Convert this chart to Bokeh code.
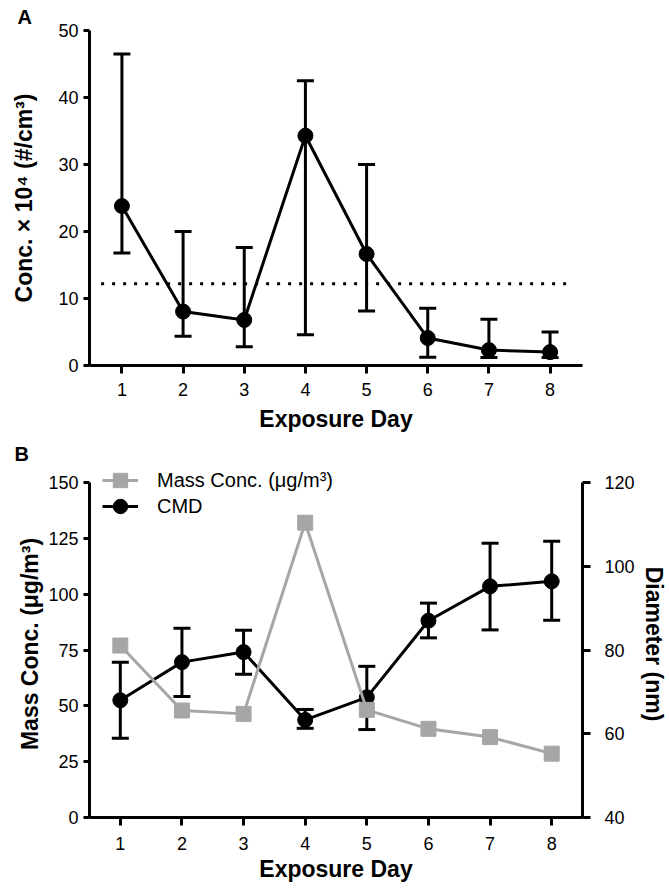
from bokeh.plotting import figure
from bokeh.models import (Range1d, LinearAxis, FixedTicker, Whisker, TeeHead,
                          ColumnDataSource, Legend, LegendItem, Title)
from bokeh.layouts import column
from bokeh.embed import file_html
from bokeh.resources import INLINE

# ---------------- data ----------------
days = [1, 2, 3, 4, 5, 6, 7, 8]
day_ticks = [1, 2, 3, 4, 5, 6, 7, 8]

# Panel A: number concentration x 10^4 (#/cm^3)
conc = [23.8, 8.05, 6.8, 34.3, 16.65, 4.1, 2.3, 2.0]
conc_upper = [46.5, 20.0, 17.6, 42.5, 30.0, 8.55, 6.9, 5.0]
conc_lower = [16.8, 4.35, 2.8, 4.6, 8.15, 1.24, 1.2, 1.2]
threshold = 12.2
threshold_x = [0.66, 8.37]
conc_ticks = [0, 10, 20, 30, 40, 50]

# Panel B
mass = [77.0, 47.9, 46.4, 132.0, 48.2, 39.7, 36.0, 28.6]
cmd = [68.0, 77.1, 79.5, 63.3, 68.7, 87.0, 95.2, 96.4]
cmd_upper = [77.1, 85.2, 84.7, 65.8, 76.1, 91.2, 105.5, 106.0]
cmd_lower = [58.9, 68.9, 74.2, 61.3, 61.0, 82.9, 84.8, 87.1]
mass_ticks = [0, 25, 50, 75, 100, 125, 150]
diam_ticks = [40, 60, 80, 100, 120]

FONT = "Liberation Sans"
GRAY = "#a6a6a6"
W = 669
TICK_PX = "18px"
TITLE_PX = "23px"

# vertical layout (px)
A_H = 470
B_H = 890 - A_H
B_BOTTOM = 73
B_FRAME_H = B_H - B_BOTTOM   # frame of B is a bit taller than the 0..150 axis
B_AXIS_PX = 335              # pixel length of the 0..150 axis


def style_axis(ax):
    ax.axis_line_width = 3
    ax.axis_line_color = "black"
    ax.major_tick_line_width = 3
    ax.major_tick_line_color = "black"
    ax.major_tick_in = 0
    ax.major_tick_out = 8
    ax.minor_tick_line_color = None
    ax.major_label_text_font = FONT
    ax.major_label_text_font_size = TICK_PX
    ax.major_label_text_color = "black"
    ax.axis_label_text_font = FONT
    ax.axis_label_text_font_size = TITLE_PX
    ax.axis_label_text_font_style = "bold"
    ax.axis_label_text_color = "black"


# ---------------- Panel A ----------------
pA = figure(width=W, height=A_H, output_backend="svg", toolbar_location=None,
            x_range=Range1d(0.47, 8.53), y_range=Range1d(0, 50),
            min_border_left=82, min_border_right=86, min_border_top=29,
            min_border_bottom=A_H - 367)
pA.outline_line_color = None
pA.grid.grid_line_color = None
pA.xaxis.ticker = FixedTicker(ticks=day_ticks)
pA.yaxis.ticker = FixedTicker(ticks=conc_ticks)
pA.xaxis.axis_label = "Exposure Day"
pA.yaxis.axis_label = "Conc. × 10⁴ (#/cm³)"
for ax in pA.xaxis + pA.yaxis:
    style_axis(ax)
pA.xaxis.major_label_standoff = 9
pA.xaxis.axis_label_standoff = 7
pA.yaxis.major_tick_out = 6
pA.yaxis.major_label_standoff = 5
pA.yaxis.axis_label_standoff = 18

pA.title = Title(text="A", align="left", offset=-72, text_font=FONT,
                 text_font_size="20px", text_font_style="bold",
                 text_color="black", standoff=6)
pA.add_layout(Title(text="B", align="left", offset=-75, text_font=FONT,
                    text_font_size="20px", text_font_style="bold",
                    text_color="black", standoff=12), "below")

srcA = ColumnDataSource(dict(x=days, y=conc, up=conc_upper, lo=conc_lower))
pA.line(threshold_x, [threshold, threshold], line_color="black", line_width=3,
        line_dash="3 8")
pA.add_layout(Whisker(source=srcA, base="x", upper="up", lower="lo",
                      line_width=3, line_color="black",
                      upper_head=TeeHead(size=17, line_width=3, line_color="black"),
                      lower_head=TeeHead(size=17, line_width=3, line_color="black")))
pA.line("x", "y", source=srcA, line_color="black", line_width=3)
pA.scatter("x", "y", source=srcA, size=15, marker="circle",
           fill_color="black", line_color="black")

# ---------------- Panel B ----------------
left_end = 150 * B_FRAME_H / B_AXIS_PX
right_end = 40 + 80 * B_FRAME_H / B_AXIS_PX
pB = figure(width=W, height=B_H, output_backend="svg", toolbar_location=None,
            x_range=Range1d(0.5, 8.5), y_range=Range1d(0, left_end),
            min_border_left=89, min_border_right=82, min_border_top=0,
            min_border_bottom=B_BOTTOM)
pB.extra_y_ranges = {"diam": Range1d(40, right_end)}
pB.add_layout(LinearAxis(y_range_name="diam", axis_label="Diameter (nm)",
                         ticker=FixedTicker(ticks=diam_ticks), bounds=(40, 120)),
              "right")
pB.outline_line_color = None
pB.grid.grid_line_color = None
pB.xaxis.ticker = FixedTicker(ticks=day_ticks)
pB.yaxis[0].ticker = FixedTicker(ticks=mass_ticks)
pB.yaxis[0].bounds = (0, 150)
pB.xaxis.axis_label = "Exposure Day"
pB.yaxis[0].axis_label = "Mass Conc. (μg/m³)"
for ax in pB.xaxis + pB.yaxis:
    style_axis(ax)
pB.xaxis.major_label_standoff = 11
pB.xaxis.axis_label_standoff = 3
pB.yaxis[0].major_tick_out = 6
pB.yaxis[0].major_label_standoff = 5
pB.yaxis[0].axis_label_standoff = 2
pB.yaxis[1].major_label_standoff = 14
pB.yaxis[1].axis_label_standoff = 3

srcB = ColumnDataSource(dict(x=days, mass=mass, cmd=cmd, up=cmd_upper, lo=cmd_lower))
pB.add_layout(Whisker(source=srcB, base="x", upper="up", lower="lo",
                      y_range_name="diam",
                      line_width=3, line_color="black",
                      upper_head=TeeHead(size=17, line_width=3, line_color="black"),
                      lower_head=TeeHead(size=17, line_width=3, line_color="black")))
cmd_line = pB.line("x", "cmd", source=srcB, y_range_name="diam",
                   line_color="black", line_width=3)
cmd_pts = pB.scatter("x", "cmd", source=srcB, y_range_name="diam", size=15,
                     marker="circle", fill_color="black", line_color="black")
mass_line = pB.line("x", "mass", source=srcB, line_color=GRAY, line_width=3)
mass_pts = pB.scatter("x", "mass", source=srcB, size=15, marker="square",
                      fill_color=GRAY, line_color=GRAY)


def make_legend(label, renderers, loc):
    return Legend(items=[LegendItem(label=label, renderers=renderers)],
                  location=loc, orientation="vertical",
                  glyph_width=36, glyph_height=40, label_standoff=19, spacing=0,
                  padding=0, margin=0, border_line_color=None,
                  background_fill_alpha=0, label_text_font=FONT,
                  label_text_font_size="20px", label_text_color="black",
                  label_text_line_height=1.0)


pB.add_layout(make_legend("Mass Conc. (μg/m³)", [mass_line, mass_pts], (13, 317)))
pB.add_layout(make_legend("CMD", [cmd_line, cmd_pts], (13, 291)))

layout = column(pA, pB, spacing=0)
open("out.html", "w").write(file_html(layout, INLINE))
